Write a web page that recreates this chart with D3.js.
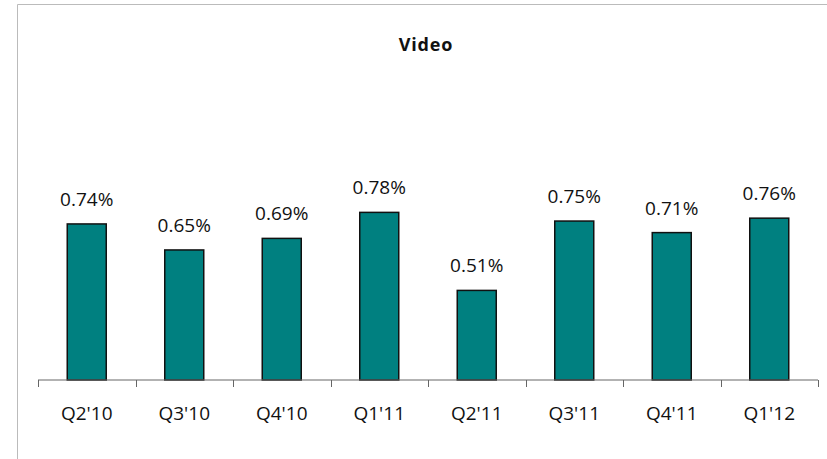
<!DOCTYPE html>
<html>
<head>
<meta charset="utf-8">
<script src="https://cdn.jsdelivr.net/npm/d3@7"></script>
<style>
  body { margin: 0; background: #fff; }
  text { font-family: "Open Sans", sans-serif; }
</style>
</head>
<body>
<div id="chart_container"></div>
<script>
// Data
var quarters = ["Q2'10", "Q3'10", "Q4'10", "Q1'11", "Q2'11", "Q3'11", "Q4'11", "Q1'12"];
var values = [0.74, 0.65, 0.69, 0.78, 0.51, 0.75, 0.71, 0.76];
var value_labels = ["0.74%", "0.65%", "0.69%", "0.78%", "0.51%", "0.75%", "0.71%", "0.76%"];
var title = "Video";

// Chart dimensions
var width = 827;
var height = 459;
var plot = {left: 38, right: 818, bottom: 380};

var svg = d3.select("#chart_container")
    .append("svg")
    .attr("width", width)
    .attr("height", height);

// Frame (only top and left edges visible)
svg.append("path")
    .attr("d", "M17.5," + height + "V4.5H" + width)
    .attr("fill", "none")
    .attr("stroke", "#bbbbbb")
    .attr("stroke-width", 1);

// Scales
var x_scale = d3.scaleBand()
    .domain(quarters)
    .range([plot.left, plot.right])
    .paddingInner(0.6)
    .paddingOuter(0.3);

var y_scale = d3.scaleLinear()
    .domain([0.2, 0.9])
    .range([plot.bottom, plot.bottom - 289 * 0.7]);

// Bars
svg.append("g")
    .selectAll("rect")
    .data(values)
    .enter()
    .append("rect")
    .attr("x", function(d, i) { return x_scale(quarters[i]); })
    .attr("y", function(d) { return y_scale(d); })
    .attr("width", x_scale.bandwidth())
    .attr("height", function(d) { return y_scale(0.2) - y_scale(d); })
    .attr("fill", "#008080")
    .attr("stroke", "#111")
    .attr("stroke-width", 1.5);

// Value labels
svg.append("g")
    .selectAll("text")
    .data(values)
    .enter()
    .append("text")
    .attr("x", function(d, i) { return x_scale(quarters[i]) + x_scale.bandwidth() / 2; })
    .attr("y", function(d) { return y_scale(d) - 18; })
    .attr("text-anchor", "middle")
    .style("font-size", "19px")
    .style("fill", "#111")
    .text(function(d, i) { return value_labels[i]; });

// X axis with ticks between categories
var x_axis = svg.append("g")
    .attr("transform", "translate(0," + plot.bottom + ")");

x_axis.append("line")
    .attr("x1", plot.left)
    .attr("x2", plot.right)
    .attr("stroke", "#666")
    .attr("stroke-width", 1);

var step = x_scale.step();
var tick_pos = d3.range(quarters.length + 1).map(function(i) { return plot.left + i * step; });

x_axis.selectAll(".tick")
    .data(tick_pos)
    .enter()
    .append("line")
    .attr("class", "tick")
    .attr("x1", function(d) { return Math.round(d) + 0.5; })
    .attr("x2", function(d) { return Math.round(d) + 0.5; })
    .attr("y1", 0)
    .attr("y2", 7)
    .attr("stroke", "#666");

x_axis.selectAll(".cat")
    .data(quarters)
    .enter()
    .append("text")
    .attr("class", "cat")
    .attr("x", function(d) { return x_scale(d) + x_scale.bandwidth() / 2; })
    .attr("y", 40)
    .attr("text-anchor", "middle")
    .style("font-size", "19px")
    .style("fill", "#111")
    .text(function(d) { return d; });

// Title
svg.append("text")
    .attr("x", 426)
    .attr("y", 51)
    .attr("text-anchor", "middle")
    .style("font-size", "18px")
    .style("font-weight", "bold")
    .style("letter-spacing", "0.8px")
    .style("fill", "#111")
    .text(title);
</script>
</body>
</html>
